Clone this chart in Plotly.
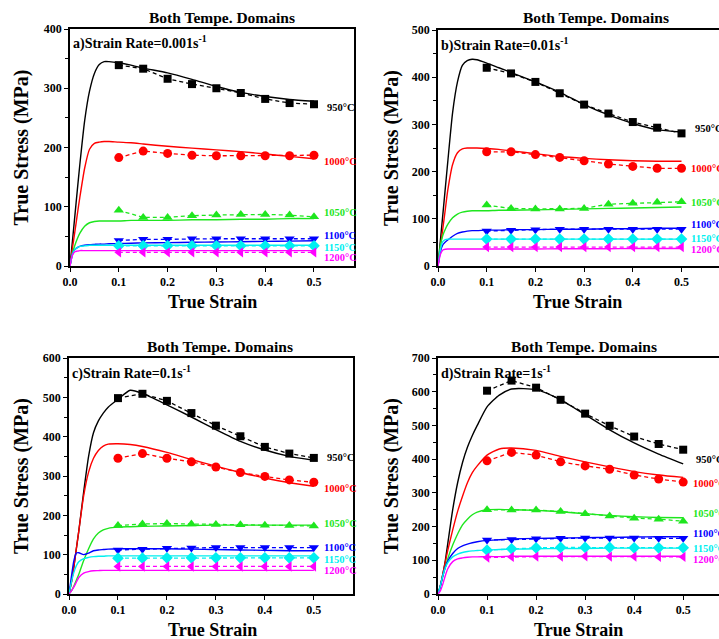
import plotly.graph_objects as go

W, H = 719, 639

# ---------------- data ----------------
temps = ["950", "1000", "1050", "1100", "1150", "1200"]
colors = ["#000000", "#FF0000", "#1EE61E", "#0000FF", "#00F0F0", "#FF00FF"]
line_colors = ["#000000", "#FF0000", "#1EE61E", "#0000FF", "#00F0F0", "#FF00FF"]
symbols = ["square", "circle", "triangle-up", "triangle-down", "diamond", "triangle-left"]

pred_strain = [0, .005, .01, .015, .02, .03, .04, .05, .06, .07, .08, .1, .125, .15, .2, .25, .3, .35, .4, .45, .5]
exp_strain = [.1, .15, .2, .25, .3, .35, .4, .45, .5]

# panel a) 0.001 s-1
pred_a_950 = [0, 42, 85, 128, 170, 245, 295, 325, 340, 345, 345, 343, 339, 334, 326, 315, 303, 293, 286, 281, 278]
pred_a_1000 = [0, 30, 58, 87, 115, 165, 197, 207, 209, 210, 210, 209, 208, 206, 202, 199, 196, 193, 189, 185, 181]
pred_a_1050 = [0, 22, 35, 46, 55, 67, 73, 75, 76, 76, 76, 76, 77, 77, 77, 78, 78, 79, 79, 80, 80]
pred_a_1100 = [0, 20, 28, 31, 33, 35, 36, 36.5, 37, 37, 37.5, 38, 38.5, 39, 39.5, 40, 40.5, 41, 41.5, 42, 42.5]
pred_a_1150 = [0, 20, 28, 31, 33, 34, 35, 35, 35, 35, 35, 35, 35, 35, 35, 35, 35, 35, 35, 35, 35]
pred_a_1200 = [0, 18, 24, 25, 26, 26, 26, 26, 26, 26, 26, 26, 26, 26, 26, 26, 26, 26, 26, 26, 26]
exp_a_950 = [339, 333, 316, 307, 300, 292, 282, 275, 273]
exp_a_1000 = [183, 194, 190, 187, 186, 186, 186, 186, 187]
exp_a_1050 = [94, 82, 82, 85, 86, 87, 87, 86, 83]
exp_a_1100 = [43, 45, 45, 46, 46, 46, 46, 46, 46]
exp_a_1150 = [34, 34, 34, 34, 34, 34, 34, 34, 34]
exp_a_1200 = [23, 23, 23, 23, 23, 23, 23, 23, 23]

# panel b) 0.01 s-1
pred_b_950 = [0, 55, 110, 165, 220, 325, 390, 425, 435, 438, 437, 430, 420, 410, 390, 368, 342, 320, 302, 289, 284]
pred_b_1000 = [0, 40, 80, 120, 160, 215, 240, 248, 250, 250, 250, 249, 247, 244, 238, 232, 228, 225, 223, 222, 222]
pred_b_1050 = [0, 45, 65, 78, 88, 102, 110, 114, 116, 117, 117, 117, 118, 118, 119, 120, 121, 122, 123, 124, 125]
pred_b_1100 = [0, 30, 45, 51, 55, 63, 69, 72, 74, 75, 75, 76, 76, 77, 77, 78, 78, 79, 79, 80, 80]
pred_b_1150 = [0, 35, 52, 56, 57, 57, 57, 57, 57, 57, 57, 57, 57, 57, 57, 57, 57, 57, 57, 57, 57]
pred_b_1200 = [0, 25, 34, 35.5, 36, 36, 36, 36, 36, 36, 36, 36, 36, 36, 36, 36.5, 36.5, 36.5, 37, 37, 37]
exp_b_950 = [420, 408, 390, 366, 342, 323, 305, 293, 281]
exp_b_1000 = [242, 242, 236, 230, 223, 216, 211, 207, 207]
exp_b_1050 = [129, 122, 121, 121, 122, 131, 133, 135, 136]
exp_b_1100 = [74, 76, 77, 78, 78, 78, 78, 78, 78]
exp_b_1150 = [57, 57, 57, 57, 57, 57, 57, 57, 57]
exp_b_1200 = [40, 40, 40, 40, 40, 40, 40, 40, 40]

# panel c) 0.1 s-1
pred_c_950 = [0, 30, 70, 115, 160, 260, 350, 410, 440, 460, 475, 495, 518, 510, 481, 450, 418, 388, 366, 350, 340]
pred_c_1000 = [0, 30, 70, 115, 160, 250, 310, 345, 365, 376, 381, 382, 380, 375, 360, 342, 325, 309, 295, 283, 274]
pred_c_1050 = [0, 8, 20, 35, 50, 85, 115, 140, 155, 163, 167, 170, 171, 172, 173, 174, 175, 175, 175, 175, 175]
pred_c_1100 = [0, 45, 85, 104, 105, 100, 104, 110, 112, 113, 114, 115, 115, 115, 115, 114, 113, 112, 111, 110, 110]
pred_c_1150 = [0, 30, 55, 72, 82, 90, 93, 95, 96, 96, 97, 97, 97, 97, 97, 97, 97, 97, 97, 97, 97]
pred_c_1200 = [0, 8, 18, 30, 42, 53, 57, 59, 59.5, 60, 60, 60, 60, 60, 60, 60, 60, 60, 60, 60, 60]
exp_c_950 = [498, 509, 491, 460, 428, 401, 374, 357, 346]
exp_c_1000 = [345, 357, 345, 336, 323, 309, 299, 290, 284]
exp_c_1050 = [174, 178, 179, 178, 177, 176, 175, 174, 173]
exp_c_1100 = [112, 114, 116, 117, 118, 118, 118, 118, 118]
exp_c_1150 = [91, 91, 92, 92, 92, 92, 92, 92, 92]
exp_c_1200 = [70, 70, 70, 70, 70, 70, 70, 70, 70]

# panel d) 1 s-1
pred_d_950 = [0, 25, 60, 100, 150, 250, 330, 390, 435, 470, 500, 555, 590, 608, 606, 576, 532, 487, 448, 415, 386]
pred_d_1000 = [0, 25, 60, 95, 130, 190, 245, 290, 330, 360, 380, 412, 430, 433, 426, 408, 392, 377, 363, 353, 346]
pred_d_1050 = [0, 25, 55, 80, 105, 145, 178, 205, 222, 235, 243, 250, 251, 250, 248, 244, 238, 233, 229, 227, 226]
pred_d_1100 = [0, 25, 55, 80, 98, 120, 135, 143, 148, 152, 155, 159, 161, 163, 165, 166, 167, 168, 169, 170, 170]
pred_d_1150 = [0, 25, 55, 78, 93, 110, 118, 123, 126, 128, 129, 131, 132, 133, 134, 135, 135, 136, 136, 136, 136]
pred_d_1200 = [0, 10, 30, 55, 75, 96, 104, 107, 109, 110, 110, 111, 111, 112, 112, 112, 112, 112, 112, 112, 112]
exp_d_950 = [603, 633, 612, 576, 535, 499, 467, 445, 428]
exp_d_1000 = [395, 420, 412, 392, 380, 370, 353, 341, 332]
exp_d_1050 = [250, 249, 249, 245, 238, 231, 225, 222, 216]
exp_d_1100 = [160, 162, 164, 165, 166, 166, 166, 165, 165]
exp_d_1150 = [130, 134, 137, 138, 138, 138, 137, 137, 137]
exp_d_1200 = [108, 110, 111, 111, 112, 111, 111, 110, 110]

panel_labels = ["a)Strain Rate=0.001s<sup>-1</sup>", "b)Strain Rate=0.01s<sup>-1</sup>",
                "c)Strain Rate=0.1s<sup>-1</sup>", "d)Strain Rate=1s<sup>-1</sup>"]
y_max = [400, 500, 600, 700]
label_y = [[267, 176, 90, 52, 31, 14],
           [291, 207, 134, 88, 59, 35],
           [347, 267, 180, 118, 88, 61],
           [398, 329, 238, 180, 136, 101]]

preds = [
    [pred_a_950, pred_a_1000, pred_a_1050, pred_a_1100, pred_a_1150, pred_a_1200],
    [pred_b_950, pred_b_1000, pred_b_1050, pred_b_1100, pred_b_1150, pred_b_1200],
    [pred_c_950, pred_c_1000, pred_c_1050, pred_c_1100, pred_c_1150, pred_c_1200],
    [pred_d_950, pred_d_1000, pred_d_1050, pred_d_1100, pred_d_1150, pred_d_1200],
]
exps = [
    [exp_a_950, exp_a_1000, exp_a_1050, exp_a_1100, exp_a_1150, exp_a_1200],
    [exp_b_950, exp_b_1000, exp_b_1050, exp_b_1100, exp_b_1150, exp_b_1200],
    [exp_c_950, exp_c_1000, exp_c_1050, exp_c_1100, exp_c_1150, exp_c_1200],
    [exp_d_950, exp_d_1000, exp_d_1050, exp_d_1100, exp_d_1150, exp_d_1200],
]

# ---------------- layout geometry (pixels) ----------------
# (left, right, top, bottom, x-range max)
boxes = [(70, 354, 29, 266, 0.582),
         (438, 719, 30, 266, 0.577),
         (69, 353, 358, 594, 0.580),
         (438, 719, 358, 594, 0.573)]
title_pos = [(222, 17), (596, 18), (220, 347), (584, 347)]
ytitle_x = [21, 391, 21, 391]
xtitle_pos = [(213, 302), (577, 302), (213, 630), (578, 630)]


def px(x):
    return x / W


def py(y):
    return 1 - y / H


FONT = "Liberation Serif"

fig = go.Figure()
annotations = []
layout = {}


def ann(text, x, y, size, color="black", xanchor="center", textangle=0, xref="paper", yref="paper"):
    return dict(text=text, x=x, y=y, xref=xref, yref=yref, xanchor=xanchor, yanchor="middle",
                textangle=textangle, showarrow=False, borderpad=0,
                font=dict(family=FONT, size=size, color=color))


for p in range(4):
    xa = "x" if p == 0 else f"x{p+1}"
    ya = "y" if p == 0 else f"y{p+1}"
    for i in range(6):
        fig.add_trace(go.Scatter(
            x=pred_strain, y=preds[p][i], mode="lines", xaxis=xa, yaxis=ya,
            line=dict(color=line_colors[i], width=1.4, shape="spline", smoothing=0.6),
            showlegend=False, hoverinfo="skip"))
    for i in range(6):
        fig.add_trace(go.Scatter(
            x=exp_strain, y=exps[p][i], mode="lines+markers", xaxis=xa, yaxis=ya,
            line=dict(color=line_colors[i], width=1.3, dash="4px,3px"),
            marker=dict(symbol=symbols[i], size=9 if i > 0 else 8, color=colors[i],
                        line=dict(width=0)),
            showlegend=False))

    l, r, t, b, xmax = boxes[p]
    axis_common = dict(
        showline=True, linecolor="black", linewidth=1.5, mirror=True,
        ticks="outside", ticklen=4, tickwidth=1.2, tickcolor="black",
        showgrid=False, zeroline=False, automargin=False,
        tickfont=dict(family=FONT, size=12, color="black", weight="bold"),
    )
    layout["xaxis" if p == 0 else f"xaxis{p+1}"] = dict(
        axis_common, domain=[px(l), min(1, px(r))], range=[0, xmax], anchor=ya,
        tickvals=[0, 0.1, 0.2, 0.3, 0.4, 0.5], tickformat=".1f")
    layout["yaxis" if p == 0 else f"yaxis{p+1}"] = dict(
        axis_common, domain=[py(b), py(t)], range=[0, y_max[p]], anchor=xa,
        dtick=100, tick0=0,
        minor=dict(dtick=50, tick0=0, ticks="outside", ticklen=3, tickwidth=1, tickcolor="black"))

    tx, ty = title_pos[p]
    annotations.append(ann("<b>Both Tempe. Domains</b>", px(tx), py(ty), 15.5))
    annotations.append(ann("<b>True Stress (MPa)</b>", px(ytitle_x[p]), py((t + b) / 2), 20, textangle=-90))
    xx, xy = xtitle_pos[p]
    annotations.append(ann("<b>True Strain</b>", px(xx), py(xy), 18))
    annotations.append(ann("<b>" + panel_labels[p] + "</b>", px(l + 2), py(t + 14), 14, xanchor="left"))
    for i in range(6):
        annotations.append(ann("<b>" + temps[i] + "°C</b>", 0.525 if i == 0 else 0.518, label_y[p][i],
                               10.5, color=colors[i], xanchor="left", xref=xa, yref=ya))

fig.update_layout(
    width=W, height=H, margin=dict(l=0, r=0, t=0, b=0, pad=0),
    paper_bgcolor="white", plot_bgcolor="white",
    font=dict(family=FONT),
    annotations=annotations, **layout)

fig.write_html("out.html")
